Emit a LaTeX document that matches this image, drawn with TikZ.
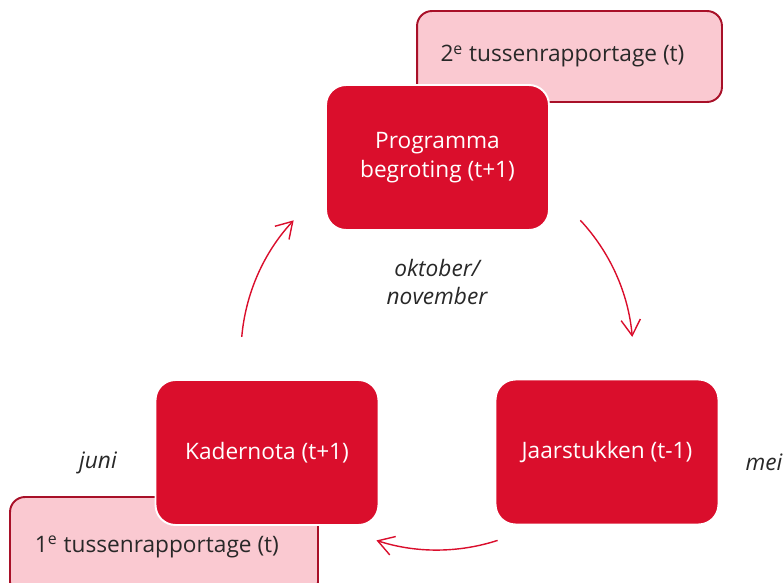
\documentclass[tikz,border=0pt]{standalone}
\usepackage{fontspec}
\setmainfont{Open Sans}
\usetikzlibrary{arrows.meta}
\definecolor{cycred}{RGB}{218,14,44}
\definecolor{notepink}{RGB}{250,201,209}
\definecolor{notedark}{RGB}{168,16,40}
\definecolor{txtgray}{RGB}{40,40,40}

\begin{document}
\begin{tikzpicture}[x=0.02cm, y=0.02cm,
    stage/.style={shape=rectangle, rounded corners=0.4cm, fill=cycred, draw=white, line width=1.1pt, text=white, minimum width=4.46cm, minimum height=2.9cm, align=center, font=\fontsize{12.9}{16.3}\selectfont},
    report/.style={shape=rectangle, rounded corners=0.3cm, fill=notepink, draw=notedark, line width=1.1pt, text=txtgray, font=\fontsize{12.9}{16.3}\selectfont},
    month/.style={text=txtgray, align=center, font=\itshape\fontsize{12.9}{16}\selectfont},
    cycle/.style={draw=cycred, line width=0.8pt, -{Straight Barb[length=9pt, width=11pt]}}]
    \useasboundingbox (0,0) rectangle (784,582);
    \clip (0,0) rectangle (784,582);

    \node[report, minimum width=6.1cm, minimum height=1.82cm] (R2) at (569.5,525.5) {\hspace*{-8pt}2\textsuperscript{e} tussenrapportage (t)};
    \node[report, minimum width=6.16cm, minimum height=2cm] (R1) at (164,35) {\hspace*{-8pt}1\textsuperscript{e} tussenrapportage (t)};

    \node[stage] (P) at (437.5,424.5) {Programma\\begroting (t+1)};
    \node[stage] (K) at (267,129.5) {Kadernota (t+1)};
    \node[stage] (J) at (607,130) {Jaarstukken (t-1)};

    \node[month] (okt) at (437,300) {oktober/\\november};
    \node[month] (juni) at (98,119) {juni};
    \node[month] (mei) at (764,120) {mei};

    % the yearly cycle
    \coordinate (M) at (437,228);
    \draw[cycle] (M) ++(175:196) arc[start angle=175, end angle=137, radius=196];
    \draw[cycle] (M) ++(43:196) arc[start angle=43, end angle=5, radius=196];
    \draw[cycle] (M) ++(-72:196) arc[start angle=-72, end angle=-108, radius=196];
\end{tikzpicture}
\end{document}
